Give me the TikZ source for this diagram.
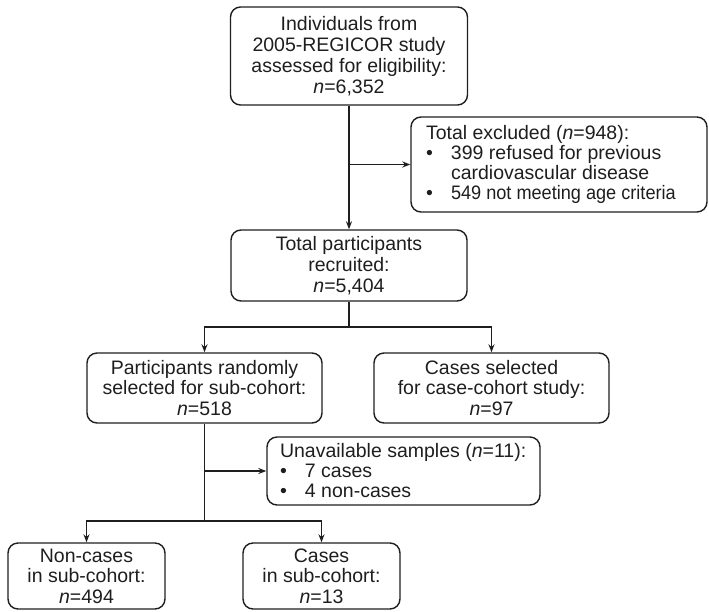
\documentclass[tikz,border=0pt]{standalone}
\usepackage{fontspec}
\setmainfont{Liberation Sans}
\usetikzlibrary{arrows.meta}
\definecolor{ink}{HTML}{1E1E1E}
\newcommand{\bul}{\makebox[25pt][l]{\textbullet}}
\begin{document}
\begin{tikzpicture}[x=1pt,y=-1pt,
  every node/.style={font=\fontsize{19.5}{21}\selectfont, text=ink},
  box/.style={draw=ink, line width=1.4pt, rounded corners=10pt, align=center, inner sep=0pt},
  tight/.style={font=\fontsize{19.5}{20.5}\selectfont},
  listbox/.style={box, align=left, font=\fontsize{19.5}{20}\selectfont},
  link/.style={draw=ink, line width=1.4pt},
  arr/.style={link, -{Stealth[length=8pt,width=6pt]}}]
\useasboundingbox (0,0) rectangle (709,611);

% boxes
\node[box, minimum width=237pt, minimum height=98pt] (elig) at (349,56)
  {Individuals from\\2005-REGICOR study\\assessed for eligibility:\\\textit{n}=6,352};
\node[listbox, inner xsep=15pt, minimum height=95pt] (excl) at (559,164.5)
  {\makebox[266pt][l]{Total excluded (\textit{n}=948):}\\
   \bul 399 refused for previous\\
   \hspace*{25pt}cardiovascular disease\\
   \bul\scalebox{0.93}[1]{549 not meeting age criteria}};
\node[box, minimum width=236pt, minimum height=71pt] (recr) at (349,265.5)
  {Total participants\\recruited:\\\textit{n}=5,404};
\node[box, tight, minimum width=235pt, minimum height=70pt] (sub) at (204.5,388)
  {Participants randomly\\selected for sub-cohort:\\\textit{n}=518};
\node[box, tight, minimum width=235pt, minimum height=70pt] (csel) at (491.5,388)
  {Cases selected\\for case-cohort study:\\\textit{n}=97};
\node[listbox, inner xsep=13pt, minimum height=68pt] (unav) at (403.5,471)
  {\makebox[247pt][l]{Unavailable samples (\textit{n}=11):}\\
   \bul 7 cases\\
   \bul 4 non-cases};
\node[box, tight, minimum width=157pt, minimum height=66pt] (nonc) at (86.5,576)
  {Non-cases\\in sub-cohort:\\\textit{n}=494};
\node[box, tight, minimum width=157pt, minimum height=66pt] (casc) at (321.5,576)
  {Cases\\in sub-cohort:\\\textit{n}=13};

% connectors
\coordinate (splitA) at (349,327);
\coordinate (splitB) at (204.5,521);
\draw[arr] (elig.south) -- (recr.north);
\draw[arr] (elig.south |- excl.west) -- (excl.west);
\draw[link] (recr.south) -- (splitA);
\draw[arr] (splitA) -| (sub.north);
\draw[arr] (splitA) -| (csel.north);
\draw[link] (sub.south) -- (splitB);
\draw[arr] (sub.south |- unav.west) -- (unav.west);
\draw[arr] (splitB) -| (nonc.north);
\draw[arr] (splitB) -| (casc.north);
\end{tikzpicture}
\end{document}
